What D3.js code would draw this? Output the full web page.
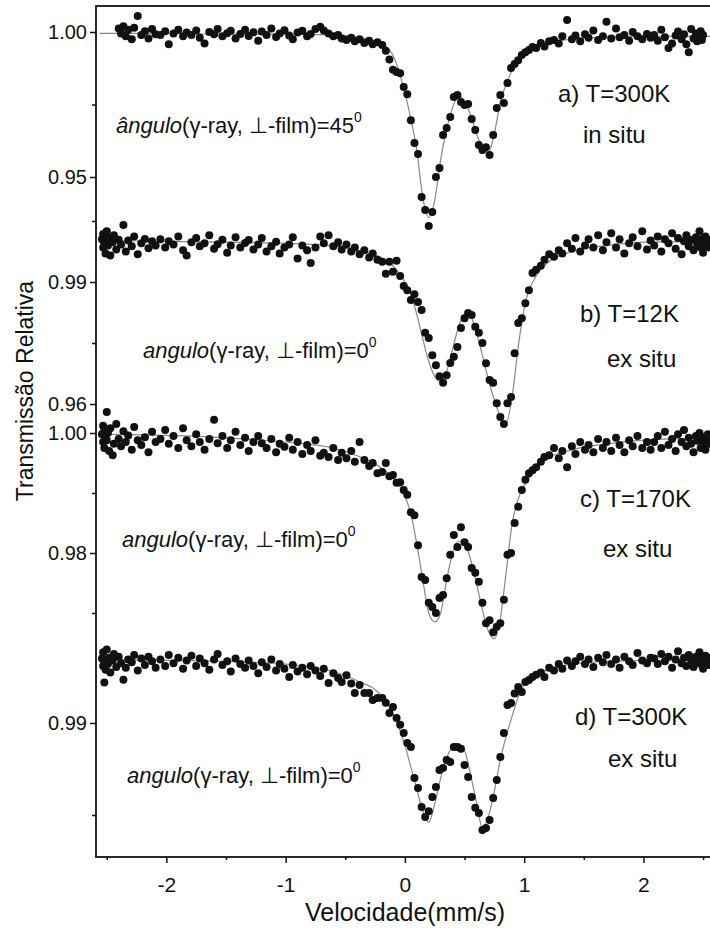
<!DOCTYPE html>
<meta charset="utf-8">
<script src="https://d3js.org/d3.v7.min.js"></script>
<style>
  body { margin: 0; background: #fff; }
  text { font-family: "Liberation Sans", Arial, sans-serif; fill: #111; }
</style>
<div id="chart"></div>
<script>

// velocity channels (mm/s), shared by the four spectra
var vel = [
  -2.54,-2.53,-2.53,-2.52,-2.52,-2.51,-2.50,-2.50,-2.49,-2.48,-2.47,-2.45,-2.44,-2.42,-2.40,-2.38,-2.36,-2.34,-2.32,-2.29,-2.27,-2.24,-2.21,-2.18,-2.15,-2.12,-2.09,
  -2.05,-2.01,-1.98,-1.94,-1.90,-1.86,-1.83,-1.79,-1.75,-1.72,-1.68,-1.64,-1.60,-1.57,-1.53,-1.49,-1.46,-1.42,-1.38,-1.34,-1.31,-1.27,-1.23,-1.20,-1.16,-1.12,-1.08,-1.05,-1.01,-0.97,-0.94,-0.90,-0.86,-0.82,-0.79,-0.75,-0.71,-0.68,-0.64,-0.60,-0.56,-0.53,-0.49,-0.45,-0.42,-0.38,-0.34,-0.30,-0.27,-0.23,
  -0.19,-0.16,-0.13,-0.10,-0.07,-0.04,-0.01,0.02,0.05,0.08,0.11,0.14,0.17,0.20,0.23,0.26,0.29,0.32,0.35,0.38,0.41,0.44,0.47,0.50,0.53,0.56,0.59,0.62,0.65,0.68,0.71,0.74,0.77,0.80,0.83,0.86,0.89,0.92,0.95,0.98,1.01,1.04,1.07,1.10,
  1.14,1.17,1.21,1.25,1.29,1.32,1.36,1.40,1.43,1.47,1.51,1.54,1.58,1.62,1.66,1.69,1.73,1.77,1.80,1.84,1.88,1.91,1.95,1.99,2.03,2.06,
  2.09,2.12,2.15,2.18,2.21,2.24,2.27,2.29,2.32,2.34,2.36,2.38,2.40,2.42,2.44,2.45,2.47,2.48,2.49,2.50,2.51,2.52,2.53,2.54,2.55
];

// relative transmission, one value per channel (null = no point)
var specA = [
  null,null,null,null,null,null,null,null,null,null,null,null,null,null,1.0012,0.9995,1.0020,0.9985,1.0008,0.9975,1.0015,1.0055,0.9990,1.0003,0.9978,1.0010,0.9992,
  0.9990,1.0003,0.9958,0.9995,1.0008,0.9985,0.9998,0.9990,1.0005,0.9980,0.9960,1.0000,0.9992,1.0010,0.9985,0.9996,1.0004,0.9978,0.9993,1.0008,0.9986,0.9999,0.9970,1.0002,0.9990,1.0012,0.9983,0.9995,1.0006,0.9988,0.9975,0.9998,1.0004,0.9985,0.9993,1.0010,1.0018,1.0005,0.9995,0.9985,0.9990,0.9978,0.9972,0.9980,0.9968,0.9975,0.9962,0.9970,0.9958,0.9965,
  0.9955,0.9935,0.9905,0.9870,0.9862,0.9858,0.9810,0.9785,0.9696,0.9617,0.9579,0.9431,0.9386,0.9331,0.9379,0.9500,0.9531,0.9645,0.9669,0.9707,0.9776,0.9783,0.9759,0.9748,0.9752,0.9700,0.9662,0.9610,0.9593,0.9603,0.9576,0.9645,0.9738,0.9783,0.9755,0.9824,0.9876,0.9890,0.9903,0.9921,0.9930,0.9938,0.9948,0.9945,
  0.9962,0.9950,0.9968,0.9972,0.9960,0.9985,1.0041,0.9975,0.9988,0.9968,0.9992,0.9980,1.0005,0.9972,0.9985,1.0035,0.9978,1.0012,0.9982,0.9990,0.9970,1.0000,0.9985,0.9975,0.9993,0.9980,
  0.9990,0.9970,1.0008,0.9982,0.9945,0.9960,0.9988,1.0002,0.9975,0.9992,0.9958,0.9930,1.0010,0.9978,0.9995,0.9968,0.9986,1.0003,0.9972,0.9990,null,null,null,null,null
];
var specB = [
  1.0005,0.9985,1.0018,0.9995,1.0010,0.9970,1.0000,1.0025,0.9990,1.0008,0.9965,0.9998,1.0015,0.9980,1.0004,0.9992,1.0040,0.9975,1.0002,0.9988,1.0012,0.9968,0.9995,1.0006,0.9983,1.0000,0.9990,
  1.0005,0.9985,1.0000,0.9992,1.0012,0.9978,0.9965,0.9998,1.0008,0.9988,0.9995,1.0015,0.9982,0.9993,1.0004,0.9972,0.9990,1.0010,0.9985,0.9996,1.0003,0.9980,0.9992,1.0008,0.9975,0.9988,0.9999,0.9970,0.9985,0.9992,1.0010,0.9958,0.9990,0.9978,0.9947,0.9985,1.0012,0.9995,1.0015,0.9988,0.9998,0.9980,0.9992,0.9975,0.9985,0.9968,0.9978,0.9960,0.9970,0.9955,
  0.9950,0.9920,0.9950,0.9925,0.9952,0.9915,0.9890,0.9880,0.9856,0.9870,0.9851,0.9831,0.9775,0.9762,0.9720,0.9695,0.9668,0.9652,0.9671,0.9701,0.9716,0.9740,0.9787,0.9811,0.9824,0.9819,0.9790,0.9775,0.9750,0.9700,0.9659,0.9652,0.9602,0.9568,0.9551,0.9602,0.9617,0.9725,0.9799,0.9811,0.9848,0.9880,0.9922,0.9930,
  0.9940,0.9955,0.9968,0.9962,0.9978,0.9970,0.9995,0.9982,1.0008,0.9975,0.9990,1.0005,0.9985,1.0015,0.9978,0.9998,1.0020,0.9985,1.0005,0.9970,0.9995,1.0010,0.9988,1.0025,0.9980,1.0002,
  0.9990,1.0012,0.9975,1.0005,0.9995,1.0020,0.9982,1.0008,0.9968,1.0000,1.0015,0.9988,1.0003,0.9978,1.0010,0.9992,1.0025,0.9985,1.0006,0.9972,0.9998,1.0012,0.9990,1.0004,0.9985
];
var specC = [
  0.9998,1.0012,0.9985,1.0005,0.9975,0.9992,1.0035,0.9988,1.0000,0.9970,1.0008,0.9963,0.9982,1.0015,0.9990,0.9978,1.0003,0.9985,0.9996,0.9972,1.0010,0.9988,0.9980,0.9993,0.9968,1.0002,0.9985,
  0.9990,1.0005,0.9982,0.9995,0.9975,1.0008,0.9988,0.9978,0.9998,0.9985,0.9972,0.9990,1.0022,0.9983,0.9995,0.9975,0.9988,1.0002,0.9980,0.9992,0.9970,0.9985,0.9995,0.9983,0.9975,0.9990,0.9968,0.9982,0.9977,0.9992,0.9972,0.9985,0.9965,0.9980,0.9970,0.9988,0.9962,0.9967,0.9960,0.9975,0.9955,0.9967,0.9958,0.9970,0.9952,0.9985,0.9955,0.9945,0.9950,0.9933,
  0.9935,0.9950,0.9928,0.9930,0.9917,0.9918,0.9905,0.9897,0.9868,0.9863,0.9813,0.9760,0.9755,0.9717,0.9710,0.9700,0.9725,0.9730,0.9758,0.9797,0.9830,0.9810,0.9843,0.9818,0.9810,0.9775,0.9767,0.9752,0.9717,0.9683,0.9688,0.9668,0.9677,0.9683,0.9722,0.9797,0.9800,0.9850,0.9877,0.9905,0.9922,0.9933,0.9938,0.9943,
  0.9952,0.9960,0.9963,0.9975,0.9958,0.9970,0.9943,0.9978,0.9965,0.9985,0.9972,0.9980,0.9968,0.9990,0.9975,0.9985,0.9970,0.9992,0.9980,0.9968,0.9988,0.9978,0.9995,0.9975,0.9985,0.9972,
  0.9985,0.9995,0.9975,1.0002,0.9980,0.9990,0.9970,0.9998,0.9985,1.0005,0.9978,0.9992,0.9982,0.9968,0.9995,0.9987,1.0000,0.9975,0.9990,0.9980,0.9993,0.9972,0.9988,0.9998,0.9982
];
var specD = [
  0.99350,0.99310,0.99385,0.99330,0.99220,0.99290,0.99345,0.99400,0.99320,0.99355,0.99275,0.99340,0.99375,0.99305,0.99360,0.99325,0.99235,0.99300,0.99345,0.99330,0.99370,0.99285,0.99350,0.99315,0.99360,0.99335,0.99300,
  0.99345,0.99310,0.99370,0.99325,0.99355,0.99295,0.99340,0.99365,0.99310,0.99350,0.99325,0.99290,0.99345,0.99375,0.99315,0.99335,0.99280,0.99350,0.99320,0.99300,0.99340,0.99310,0.99270,0.99330,0.99305,0.99345,0.99285,0.99320,0.99295,0.99250,0.99315,0.99280,0.99300,0.99265,0.99310,0.99285,0.99255,0.99295,0.99217,0.99270,0.99245,0.99223,0.99260,0.99215,0.99163,0.99207,0.99163,0.99163,0.99125,0.99136,
  0.99136,0.99110,0.99054,0.99087,0.99027,0.98990,0.98946,0.98891,0.98870,0.98701,0.98647,0.98543,0.98489,0.98520,0.98598,0.98652,0.98745,0.98755,0.98799,0.98788,0.98870,0.98870,0.98860,0.98772,0.98707,0.98598,0.98540,0.98511,0.98418,0.98429,0.98473,0.98592,0.98690,0.98815,0.98946,0.99098,0.99109,0.99160,0.99196,0.99168,0.99223,0.99234,0.99250,0.99262,
  0.99275,0.99250,0.99300,0.99285,0.99320,0.99295,0.99340,0.99310,0.99335,0.99360,0.99320,0.99345,0.99305,0.99355,0.99330,0.99370,0.99320,0.99345,0.99300,0.99360,0.99335,0.99315,0.99380,0.99340,0.99325,0.99355,
  0.99350,0.99320,0.99375,0.99335,0.99360,0.99300,0.99345,0.99390,0.99325,0.99355,0.99310,0.99370,0.99340,0.99305,0.99360,0.99330,0.99385,0.99320,0.99350,0.99295,0.99345,0.99365,0.99330,0.99355,0.99315
];

// fitted curves, read at these velocities
var fitV = [-2.56,-2.0,-1.5,-1.0,-0.6,-0.4,-0.2,-0.1,0,0.05,0.1,0.15,0.2,0.25,0.3,0.35,0.4,0.45,0.5,0.55,0.6,0.65,0.7,0.75,0.8,0.85,0.9,0.95,1.0,1.1,1.2,1.4,1.7,2.0,2.56];
var fitA = [0.9995,0.9995,0.9993,0.9993,0.9990,0.9982,0.9960,0.9920,0.9790,0.9700,0.9590,0.9430,0.9360,0.9420,0.9560,0.9665,0.9740,0.9780,0.9760,0.9715,0.9650,0.9600,0.9585,0.9650,0.9760,0.9820,0.9870,0.9900,0.9922,0.9945,0.9962,0.9975,0.9982,0.9985,0.9985];
var fitB = [1.0002,1.0000,0.9998,0.9995,0.9988,0.9978,0.9960,0.9940,0.9900,0.9870,0.9820,0.9760,0.9705,0.9668,0.9655,0.9680,0.9735,0.9790,0.9820,0.9815,0.9775,0.9720,0.9660,0.9610,0.9570,0.9555,0.9620,0.9740,0.9835,0.9915,0.9948,0.9975,0.9990,0.9998,1.0000];
var fitC = [0.9998,0.9996,0.9992,0.9985,0.9975,0.9962,0.9942,0.9925,0.9895,0.9865,0.9815,0.9755,0.9700,0.9685,0.9700,0.9755,0.9800,0.9820,0.9815,0.9790,0.9750,0.9705,0.9670,0.9657,0.9690,0.9770,0.9850,0.9890,0.9912,0.9940,0.9958,0.9972,0.9982,0.9988,0.9992];
var fitD = [0.99345,0.99340,0.99335,0.99320,0.99280,0.99230,0.99150,0.99050,0.98880,0.98760,0.98640,0.98520,0.98460,0.98560,0.98700,0.98810,0.98870,0.98885,0.98850,0.98720,0.98570,0.98430,0.98490,0.98630,0.98800,0.98930,0.99040,0.99140,0.99210,0.99260,0.99290,0.99320,0.99335,0.99340,0.99345];

// tick labels
var xTicks = [-2, -1, 0, 1, 2];
var xMinor = [-2.5, -1.5, -0.5, 0.5, 1.5, 2.5];
var yMajor = [[0.95, 1.00], [0.96, 0.99], [0.98, 1.00], [0.99]];
var yMinor = [[0.975], [0.975, 1.005], [0.97, 0.99], [0.985]];

// panel captions
var angleWord = ["ângulo", "angulo", "angulo", "angulo"];
var angleDeg = ["45", "0", "0", "0"];
var tempLabel = ["a) T=300K", "b) T=12K", "c) T=170K", "d) T=300K"];
var situLabel = ["in situ", "ex situ", "ex situ", "ex situ"];

var W = 710, H = 931;
var mLeft = 96, mTop = 6, mBottom = 857, mRight = 715;

var svg = d3.select("#chart").append("svg")
  .attr("width", W).attr("height", H);

var x = d3.scaleLinear().domain([-2.59, 2.6]).range([mLeft, mRight]);

// one vertical scale per stacked spectrum
var panels = [
  {vals: specA, fit: fitA, y: d3.scaleLinear().domain([0.95, 1.00]).range([177, 32]),
   cap: [116, 133], tl: [558, 102], sl: [583, 143]},
  {vals: specB, fit: fitB, y: d3.scaleLinear().domain([0.96, 0.99]).range([404, 282]),
   cap: [143, 358], tl: [580, 322], sl: [607, 367]},
  {vals: specC, fit: fitC, y: d3.scaleLinear().domain([0.98, 1.00]).range([553, 433]),
   cap: [122, 547], tl: [580, 507], sl: [603, 557]},
  {vals: specD, fit: fitD, y: d3.scaleLinear().domain([0.985, 0.99]).range([815, 723]),
   cap: [127, 783], tl: [575, 725], sl: [608, 767]}
];

// frame
svg.append("rect")
  .attr("x", mLeft).attr("y", mTop)
  .attr("width", mRight - mLeft).attr("height", mBottom - mTop)
  .attr("fill", "none").attr("stroke", "#111").attr("stroke-width", 1.8);

panels.forEach(function(p, i) {
  var pts = vel.map(function(v, j) { return {v: v, t: p.vals[j]}; })
    .filter(function(d) { return d.t != null; });

  var line = d3.line()
    .x(function(d) { return x(d[0]); })
    .y(function(d) { return p.y(d[1]); })
    .curve(d3.curveMonotoneX);

  svg.append("path")
    .datum(d3.zip(fitV, p.fit))
    .attr("d", line)
    .attr("fill", "none")
    .attr("stroke", "#888")
    .attr("stroke-width", 1.2);

  svg.append("g").selectAll("circle")
    .data(pts)
    .enter().append("circle")
      .attr("cx", function(d) { return x(d.v); })
      .attr("cy", function(d) { return p.y(d.t); })
      .attr("r", 4)
      .attr("fill", "#111");

  // y axis ticks for this spectrum
  var ga = svg.append("g")
    .attr("transform", "translate(" + mLeft + ",0)")
    .call(d3.axisLeft(p.y).tickValues(yMajor[i]).tickFormat(d3.format(".2f"))
      .tickSize(6).tickPadding(3));
  ga.select(".domain").remove();
  ga.selectAll("text").attr("font-size", 20).attr("font-family", null);
  ga.selectAll("line").attr("stroke", "#111").attr("stroke-width", 1.5);

  var gm = svg.append("g")
    .attr("transform", "translate(" + mLeft + ",0)")
    .call(d3.axisLeft(p.y).tickValues(yMinor[i]).tickFormat("").tickSize(4));
  gm.select(".domain").remove();
  gm.selectAll("line").attr("stroke", "#111").attr("stroke-width", 1.5);

  // captions
  var cap = svg.append("text")
    .attr("x", p.cap[0]).attr("y", p.cap[1])
    .attr("font-size", 22);
  cap.append("tspan").attr("font-style", "italic").text(angleWord[i]);
  cap.append("tspan").text("(γ-ray, ⊥-film)=" + angleDeg[i]);
  cap.append("tspan").attr("font-size", 14).attr("dy", -11).text("0");

  svg.append("text").attr("x", p.tl[0]).attr("y", p.tl[1])
    .attr("font-size", 24).text(tempLabel[i]);
  svg.append("text").attr("x", p.sl[0]).attr("y", p.sl[1])
    .attr("font-size", 24).text(situLabel[i]);
});

// x axis
var gx = svg.append("g")
  .attr("transform", "translate(0," + mBottom + ")")
  .call(d3.axisBottom(x).tickValues(xTicks)
    .tickFormat(function(d) { return String(d); })
    .tickSize(6).tickPadding(14));
gx.select(".domain").remove();
gx.selectAll("text").attr("font-size", 21).attr("font-family", null);
gx.selectAll("line").attr("stroke", "#111").attr("stroke-width", 1.5);

var gxm = svg.append("g")
  .attr("transform", "translate(0," + mBottom + ")")
  .call(d3.axisBottom(x).tickValues(xMinor).tickFormat("").tickSize(3));
gxm.select(".domain").remove();
gxm.selectAll("line").attr("stroke", "#111").attr("stroke-width", 1.5);

// axis titles
svg.append("text")
  .attr("x", 405).attr("y", 921)
  .attr("text-anchor", "middle")
  .attr("font-size", 25)
  .text("Velocidade(mm/s)");

svg.append("text")
  .attr("transform", "translate(33,391) rotate(-90)")
  .attr("text-anchor", "middle")
  .attr("font-size", 23)
  .text("Transmissão Relativa");

</script>
